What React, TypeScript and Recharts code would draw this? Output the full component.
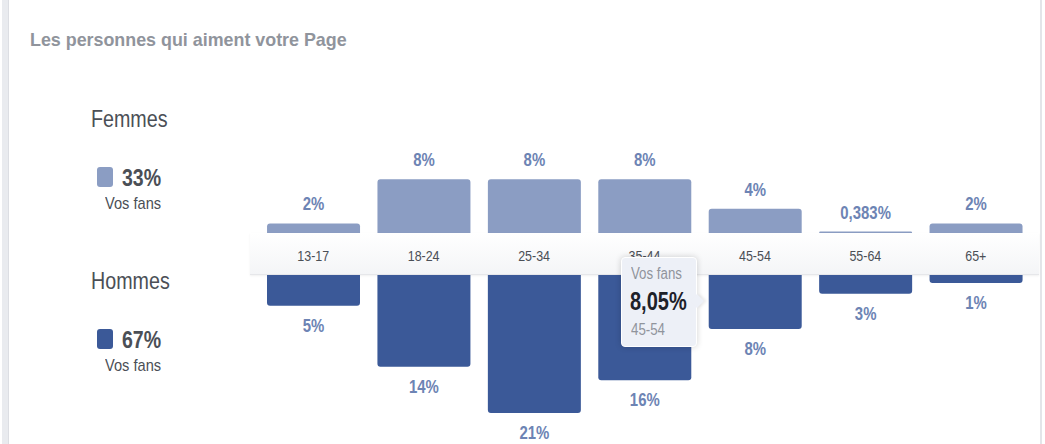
import React from 'react';
import { BarChart, Bar, XAxis, YAxis, Tooltip, LabelList } from 'recharts';

// age groups shown on the middle band
const ageGroups = ['13-17', '18-24', '25-34', '35-44', '45-54', '55-64', '65+'];
// share of fans, in %
const womenShare = [1.6, 8.2, 8.2, 8.2, 3.8, 0.383, 1.6];
const menShare = [4.6, 13.7, 20.6, 15.7, 8.05, 2.8, 1.2];
const womenTotal = '33%';
const menTotal = '67%';

const data = ageGroups.map((age, i) => ({
  age,
  women: womenShare[i],
  men: menShare[i],
}));

const FONT = '"Liberation Sans", Arial, sans-serif';
const NARROW = 0.83; // the original uses a condensed face
const WOMEN_COLOR = '#8b9dc3';
const MEN_COLOR = '#3b5998';
const LABEL_COLOR = '#6d84b4';
const PX_PER_PCT = 6.7;

const fmtPct = (v: number) =>
  v < 1 ? `${v.toFixed(3).replace('.', ',')}%` : `${Math.round(v)}%`;

const narrow = (scale = NARROW): React.CSSProperties => ({
  transform: `scaleX(${scale})`,
  transformOrigin: 'left top',
  whiteSpace: 'nowrap',
});

// bar value label, squeezed horizontally like the original face
function BarLabel({ x, y, width, height, value, below }: any) {
  const top = Math.min(y, y + height);
  const bottom = Math.max(y, y + height);
  const cx = x + width / 2;
  const baseY = below ? bottom + 26 : top - 13;
  return (
    <text
      transform={`translate(${cx},${baseY}) scale(${NARROW},1)`}
      textAnchor="middle"
      fill={LABEL_COLOR}
      fontSize={18}
      fontWeight="bold"
      fontFamily={FONT}
    >
      {fmtPct(Number(value))}
    </text>
  );
}

function AgeTick({ x, y, payload }: any) {
  return (
    <text
      transform={`translate(${x},${y}) scale(${NARROW},1)`}
      textAnchor="middle"
      fill="#4b4f56"
      fontSize={15}
      fontFamily={FONT}
    >
      {payload.value}
    </text>
  );
}

function FansTooltip({ payload, label }: any) {
  if (!payload || !payload.length) return null;
  const value = Number(payload[0].value);
  return (
    <div
      style={{
        position: 'relative',
        width: 76,
        height: 90,
        background: '#edf0f7',
        border: '1px solid #ffffff',
        borderRadius: 4,
        boxShadow: '0 0 6px rgba(0,0,0,0.18)',
        fontFamily: FONT,
        lineHeight: 1,
        boxSizing: 'border-box',
      }}
    >
      <div
        style={{
          position: 'absolute',
          right: -6,
          top: 38,
          width: 10,
          height: 10,
          background: '#edf0f7',
          transform: 'rotate(45deg)',
          boxShadow: '2px -2px 3px rgba(0,0,0,0.08)',
        }}
      />
      <div style={{ position: 'absolute', left: 9, top: 8, fontSize: 16, color: '#90949c', ...narrow() }}>
        Vos fans
      </div>
      <div
        style={{
          position: 'absolute',
          left: 8,
          top: 31,
          fontSize: 25,
          fontWeight: 'bold',
          color: '#1d2129',
          ...narrow(0.8),
        }}
      >
        {`${value.toFixed(2).replace('.', ',')}%`}
      </div>
      <div style={{ position: 'absolute', left: 9, top: 64, fontSize: 16, color: '#90949c', ...narrow() }}>
        {label}
      </div>
    </div>
  );
}

function Legend({ top, title, color, total }: { top: number; title: string; color: string; total: string }) {
  return (
    <div style={{ position: 'absolute', left: 0, top, fontFamily: FONT, lineHeight: 1, color: '#4b4f56' }}>
      <div style={{ position: 'absolute', left: 91, top: 0, fontSize: 24, ...narrow(0.82) }}>{title}</div>
      <div
        style={{
          position: 'absolute',
          left: 97,
          top: 60,
          width: 16,
          height: 20,
          borderRadius: 3,
          background: color,
        }}
      />
      <div style={{ position: 'absolute', left: 122, top: 60, fontSize: 23, fontWeight: 'bold', ...narrow(0.85) }}>
        {total}
      </div>
      <div style={{ position: 'absolute', left: 105, top: 88, fontSize: 17, ...narrow(0.86) }}>Vos fans</div>
    </div>
  );
}

export default function App() {
  const topMax = 16;
  const bottomMax = 25;
  const topHeight = topMax * PX_PER_PCT;
  const axisHeight = 41;
  const bottomHeight = axisHeight + bottomMax * PX_PER_PCT;

  return (
    <div
      style={{
        position: 'absolute',
        left: 0,
        top: 0,
        width: 1045,
        height: 444,
        background: '#ffffff',
        overflow: 'hidden',
        fontFamily: FONT,
      }}
    >
      {/* card borders */}
      <div
        style={{
          position: 'absolute',
          left: 2,
          top: 0,
          width: 6,
          height: 444,
          background: '#e9ebef',
          borderRight: '1px solid #dcdee3',
        }}
      />
      <div style={{ position: 'absolute', left: 1040, top: 0, width: 2, height: 444, background: '#e3e5e9' }} />

      <div
        style={{
          position: 'absolute',
          left: 30,
          top: 30,
          fontSize: 19,
          fontWeight: 'bold',
          color: '#90949c',
          lineHeight: 1,
          ...narrow(0.94),
        }}
      >
        Les personnes qui aiment votre Page
      </div>

      <Legend top={107} title="Femmes" color={WOMEN_COLOR} total={womenTotal} />
      <Legend top={269} title="Hommes" color={MEN_COLOR} total={menTotal} />

      {/* women, growing up */}
      <div style={{ position: 'absolute', left: 258, top: 234 - topHeight, zIndex: 1 }}>
        <BarChart width={773} height={topHeight} data={data} margin={{ top: 0, right: 0, bottom: 0, left: 0 }}>
          <XAxis dataKey="age" hide />
          <YAxis hide domain={[0, topMax]} />
          <Bar dataKey="women" fill={WOMEN_COLOR} barSize={93} radius={[3, 3, 0, 0]} isAnimationActive={false}>
            <LabelList dataKey="women" content={<BarLabel />} />
          </Bar>
        </BarChart>
      </div>

      {/* age band */}
      <div
        style={{
          position: 'absolute',
          left: 250,
          top: 233,
          width: 789,
          height: 41,
          background: 'linear-gradient(to bottom, #ffffff, #f4f5f7)',
          borderBottom: '1px solid #e6e7ea',
          boxShadow: '0 1px 2px rgba(0,0,0,0.06)',
          zIndex: 2,
        }}
      />

      {/* men, growing down */}
      <div style={{ position: 'absolute', left: 258, top: 234, zIndex: 3 }}>
        <BarChart width={773} height={bottomHeight} data={data} margin={{ top: 0, right: 0, bottom: 0, left: 0 }}>
          <XAxis
            dataKey="age"
            orientation="top"
            height={axisHeight}
            axisLine={false}
            tickLine={false}
            tickMargin={8}
            interval={0}
            tick={<AgeTick />}
          />
          <YAxis hide reversed domain={[0, bottomMax]} />
          <Tooltip
            defaultIndex={4}
            active
            cursor={false}
            position={{ x: 363, y: 23 }}
            content={<FansTooltip />}
            isAnimationActive={false}
          />
          <Bar dataKey="men" fill={MEN_COLOR} barSize={93} radius={[3, 3, 0, 0]} isAnimationActive={false}>
            <LabelList dataKey="men" content={<BarLabel below />} />
          </Bar>
        </BarChart>
      </div>
    </div>
  );
}
